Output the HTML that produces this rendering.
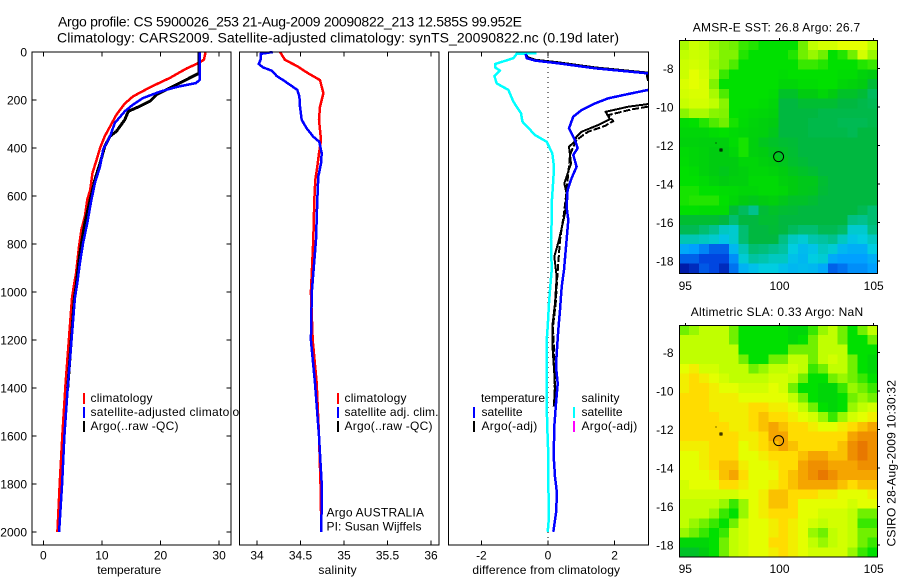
<!DOCTYPE html>
<html>
<head>
<meta charset="utf-8">
<title>Argo profile</title>
<style>
html,body{margin:0;padding:0;background:#fff;width:900px;height:580px;overflow:hidden}
svg{display:block}
text{font-family:"Liberation Sans",sans-serif;font-size:12px;fill:#000}
.t{font-size:14px}
</style>
</head>
<body>
<svg id="chart" xmlns="http://www.w3.org/2000/svg" width="900" height="580" viewBox="0 0 900 580">
<defs>
<clipPath id="clip3"><rect x="449" y="52" width="199" height="493"/></clipPath>
</defs>
<rect width="900" height="580" fill="#fff"/>
<text class="t" x="58" y="26.5" textLength="464">Argo profile: CS 5900026_253 21-Aug-2009 20090822_213 12.585S 99.952E</text>
<text class="t" x="57" y="42.5" textLength="562">Climatology: CARS2009. Satellite-adjusted climatology: synTS_20090822.nc (0.19d later)</text>

<g id="p1"></g>
<g id="p1legend">
<rect x="83" y="393" width="2" height="11" fill="#f00"/>
<rect x="83" y="407" width="2" height="11" fill="#00f"/>
<rect x="83" y="421" width="2" height="11" fill="#000"/>
<text x="90.5" y="402" textLength="62">climatology</text>
<text x="90.5" y="416" textLength="162">satellite-adjusted climatology</text>
<text x="90.5" y="430" textLength="88">Argo(..raw -QC)</text>
</g>
<g id="p2"></g>
<g id="p2legend">
<rect x="337" y="393" width="2" height="11" fill="#f00"/>
<rect x="337" y="407" width="2" height="11" fill="#00f"/>
<rect x="337" y="421" width="2" height="11" fill="#000"/>
<text x="344.5" y="402" textLength="62">climatology</text>
<text x="344.5" y="416" textLength="94">satellite adj. clim.</text>
<text x="344.5" y="430" textLength="88">Argo(..raw -QC)</text>
<text x="326.5" y="516.5" textLength="97.5">Argo AUSTRALIA</text>
<text x="326.5" y="530.5" textLength="95">PI: Susan Wijffels</text>
</g>
<g id="p3"></g>
<g id="p3legend">
<text x="481" y="402" textLength="64">temperature</text>
<rect x="473" y="407" width="2" height="11" fill="#00f"/>
<rect x="473" y="421" width="2" height="11" fill="#000"/>
<text x="481.5" y="416" textLength="41">satellite</text>
<text x="481.5" y="430" textLength="55.7">Argo(-adj)</text>
<text x="581.5" y="402" textLength="38">salinity</text>
<rect x="573" y="407" width="2" height="11" fill="#0ff"/>
<rect x="573" y="421" width="2" height="11" fill="#f0f"/>
<text x="581.5" y="416" textLength="41">satellite</text>
<text x="581.5" y="430" textLength="55.7">Argo(-adj)</text>
</g>
<g id="m1"></g>
<g id="m2"></g>
<text x="692.7" y="31.5" textLength="167.5">AMSR-E SST: 26.8 Argo: 26.7</text>
<text x="690.7" y="316" textLength="172.5">Altimetric SLA: 0.33 Argo: NaN</text>
<text transform="translate(895.5,546.5) rotate(-90)" textLength="166.5">CSIRO 28-Aug-2009 10:30:32</text>
</svg>
<script>
// ---- axis tick data ----
var depthTicks = [0,200,400,600,800,1000,1200,1400,1600,1800,2000];
var tempTicks = [0,10,20,30];
var salTicks = [34,34.5,35,35.5,36];
var salTickLabels = ['34','34.5','35','35.5','36'];
var diffTicks = [-2,0,2];
var lonTicks = [95,100,105];
var latTicks = [-8,-10,-12,-14,-16,-18];

// ---- temperature profiles ----
var tempClimDepth = [0,32,46,69,108,147,185,215,261,310,351,400,449,504,574,615,685,740,810,921,976,1025,1380,1600,1800,2000];
var tempClimValue = [27.7,27.4,26.5,24.4,21.6,18.2,15.3,13.9,12.5,11.4,10.5,9.7,9.1,8.4,8.0,7.5,7.1,6.5,6.1,5.6,5.2,4.9,3.8,3.25,2.8,2.4];
var tempSatDepth = [0,115,129,143,157,171,192,219,247,296,351,407,476,546,629,712,796,879,962,1025,1400,1600,1800,2000];
var tempSatValue = [26.7,26.7,26.1,23.3,21.0,19.3,17,15.3,13.9,12.2,11.4,10.2,9.7,8.8,8.1,7.5,6.8,6.25,5.8,5.4,4.16,3.6,3.2,2.7];
var tempArgoDepth = [0,88,108,129,157,178,205,226,247,282,330,351,393,462,532,615,712,838,976,1025,1400];
var tempArgoValue = [26.6,26.6,25,23.3,21,19.3,18.2,16.5,14.5,13.9,12.5,11.4,10.5,9.7,8.8,8,7.1,6.25,5.6,5.3,4.16];

// ---- salinity profiles ----
var salClimDepth = [0,33,58,89,117,172,228,283,367,422,478,533,617,783,1000,1200,1380,1600,1800,2000];
var salClimValue = [34.264,34.322,34.456,34.59,34.724,34.763,34.724,34.713,34.736,34.713,34.693,34.67,34.659,34.647,34.62,34.64,34.686,34.713,34.73,34.74];
var salSatDepth = [0,8,33,50,64,78,100,117,137,158,186,228,283,318,353,374,422,464,519,617,783,1000,1200,1380,1600,1800,2000];
var salSatValue = [34.18,34.04,34.04,34.02,34.07,34.17,34.226,34.30,34.38,34.463,34.487,34.494,34.514,34.571,34.647,34.716,34.744,34.736,34.705,34.693,34.678,34.63,34.62,34.667,34.713,34.744,34.74];

// ---- differences from climatology ----
var diffTSatDepth = [8,26,36,47,68,89,100,150,158,175,193,214,242,269,318,367,401,429,478,526,575,645,700,783,908,978,1075,1158,1256,1311,1381,1464,1561,1686,1770,1839,1922,1999];
var diffTSatValue = [-0.67,-0.64,-0.39,0.31,1.41,3.01,3.5,3.5,3.01,2.41,1.81,1.41,1.01,0.76,0.63,0.81,0.89,0.76,0.86,0.71,0.59,0.56,0.61,0.56,0.48,0.41,0.36,0.31,0.26,0.24,0.29,0.24,0.19,0.17,0.21,0.27,0.24,0.16];
var diffSSatDepth = [5,8,26,50,64,78,100,131,158,207,255,290,346,374,422,478,533,630,700,783,908,992,1047,1145,1200,1478,1617,1672,1796,1936,1999];
var diffSSatValue = [-0.34,-0.94,-1.04,-1.59,-1.59,-1.44,-1.61,-1.54,-1.19,-1.04,-0.81,-0.77,-0.39,-0.04,0.13,0.18,0.16,0.11,0.11,0.09,0.11,0.06,0.03,-0.01,-0.04,-0.04,-0.01,0.01,0.01,0.03,-0.01];
var diffArgoDepth = [8,22,32,43,64,86,100,117,125,210,217,228,249,280,304,332,353,374,395,464,547,589,672,783,853,936,1047,1145,1214,1339,1408,1478];
var diffArgoValue = [-0.67,-0.6,-0.39,0.31,1.41,3.0,2.97,3.0,3.6,3.6,3.0,2.41,1.73,1.86,1.51,1.01,0.86,0.79,0.63,0.69,0.49,0.56,0.51,0.33,0.19,0.26,0.21,0.13,0.13,0.19,0.21,0.17];
var diffArgoAdjDepth = [228,239,263,288,308,332,346,367,395,429,505,589,672,783,936,1047,1145,1339,1478];
var diffArgoAdjValue = [3.0,2.51,1.81,1.96,1.71,1.21,1.06,0.86,0.76,0.66,0.61,0.55,0.48,0.36,0.28,0.23,0.15,0.21,0.19];

// ---- map data: colour-scale level per cell, north to south ----
var sstLevels = [
[8.7,9.3,9,8.5,8.2,8,7.5,7.3,7,7,7,7,8,9,9.5,9.5,10,10,10,9],
[9,9.3,9.2,8.7,8.2,8.2,7.3,7,7,7,7,7.3,8,8.5,8,7,7.3,8,9.5,8.5],
[9.3,9.5,9.3,8.5,8.2,7.7,7,7,7,7,7,7,7.5,7.5,7.3,7,7,7,7.3,7.5],
[9.3,10,9.5,8.7,7.5,7,7,7,7,7,6.8,7,7,7,7,7,6.8,6.8,6.3,6],
[9.7,10,9.7,8.2,7,7,7,7,7,7,6.5,6.5,6.8,6.8,7,7,6.5,6.3,6,5.2],
[9.5,9.7,9.7,8.7,7.7,7,7,7,7,6.8,5.5,5.5,6,6,6.5,6,5.5,5.5,5.2,4.7],
[9.2,9.5,9.5,9,8.3,7,7,7,6.8,6.5,5,5,5.3,5.3,5.3,5.3,5,5,4.9,4.8],
[8.3,8.7,8.7,8.3,8.2,7,6.8,6.6,6.5,6.3,5,5,5,5,4.9,4.9,4.9,4.9,4.9,4.9],
[6.8,7,7.3,7.7,8,7.2,6.7,6.4,6.2,6,5,5,5,4.9,4.9,4.9,4.8,4.8,4.8,4.9],
[6.5,6.5,6.5,6.8,7,6.7,6.5,6.3,6.2,5.8,5,5,5,4.9,4.9,4.9,4.9,4.8,5,5],
[6.3,6.3,6.2,6.2,6.2,6.8,7.2,6.2,5.7,5.5,5.3,5.2,5,5,5,5,5,5,5,5],
[6.7,6.5,6.3,6,6,6.5,7.2,6.2,6,5.7,5.5,5.3,5,5,5,5,5,5,5,5],
[6.8,6.5,6.3,6,6,6,6.5,6.5,6.2,6,5.7,5.4,5.2,5,5,5,5,5,5,5],
[7,6.8,6.3,6,5.8,6,6.2,6.5,6.5,6.3,6,5.7,5.5,5.3,5,5,5,5,5,5],
[7,7,6.7,6.3,6,6.2,6.2,6.7,6.7,6.7,6.2,6,5.8,5.8,5.3,5,5,5,5,5],
[7.2,7.2,7,7,6.8,6.7,6.5,6.5,6.7,6.7,6.5,6,5.8,5.7,5.2,5,5,5,5,5],
[7.2,7.3,7.3,7.3,7,6.5,6,5.8,6,6.2,5.8,5.5,5.5,5.3,5,5,5,5,5,5],
[7,7,6.8,6.8,6.8,5.2,4.7,4.2,5.2,5.5,5.3,5.2,5,5,5,5,5,5,4.8,4.5],
[5.3,5.3,5.3,5.3,5,4.5,5,5,5.3,5.3,5,5,5,5,5,5,5,4.3,4.2,4.5],
[4.8,4.8,4.5,4.2,3.5,3.3,4.5,5,5,5.2,5,4.7,4.5,4.5,4.8,4.8,4.6,3.3,3.3,4.3],
[3.7,3.7,3.5,3.3,2.8,3.3,4.5,5,5,5,4.3,3.5,3.2,3.8,4,4.2,3.5,2.8,3,3.5],
[2.2,2,1.7,1.3,1.3,2.5,3.7,4.5,4.4,4.2,4,3,2.6,2.8,3.5,3.2,2.5,2.3,2.3,3],
[1.3,1.3,1,1,1,1.8,3.2,4,3.8,3.5,3.5,2.7,2.5,3,3.2,2.2,2,2,2,2.3],
[0.2,0.5,1.2,1,0.5,1.5,2.4,2.7,3,3,2.7,2.5,2.6,2.5,2.2,1.3,1.5,1.8,1.8,2]
];
var slaLevels = [
[8,8.5,9,9,9,8,7,7,7,7,7,6.5,6.5,7.5,8.5,9,8,7,8,9],
[9,9,9,9,9,8,7,7,7,7,7,6.5,7,8,9,9,8,7,7,8],
[9,9,9,9,9,9,7,7,7,7,7,8,8,8,9,9,9,7,7,7],
[9,9,9,9,9,9,8,7,7,8,8,9,9,8,9,9.5,9,8,7,6.5],
[10,10.5,9.5,9.5,9,9,9,8,8.5,9,9,9.5,9,7.5,8,9,9,8,7,6.5],
[10.5,11,10.5,10,9.5,9,9,9,9,9.5,9.5,9,8,7,7,8,8.5,8,7.5,7],
[10.5,11,11,10.5,10,10,9.5,9.5,9.5,10,9.5,8,7,7,6.5,6.5,7.5,8.5,8,7.5],
[11,11,11,10.5,10.5,10.5,10,10,10,10,10,9,8,7,6.5,6.5,7,8,8.5,8],
[11,11,11,10.5,10.5,10.5,10.5,11,11,10.5,10.5,10,9,8,7,6.5,7,8.5,9,9.5],
[11,11,11,11,10.5,10.5,10.5,11,11.5,11,11,10.5,10,9.5,8.5,7.5,8.5,9.5,10,10.5],
[11,11,11,11,11,10.5,10.5,11,11.5,12,11.5,11,11,10.5,10,10,10.5,11,11.5,12],
[11,11,11,11,11,11,10.5,10.5,11,12,12,11,11,11,11,11,11,12,12.5,12.5],
[10.5,10.5,10.5,11,11,11,10,10.5,11,11.5,12,11.5,11,11,11,11,11.5,12.5,13,12.5],
[10,10,10.5,11,11,11,10,10,10.5,11,11,11,11.5,12,12,11.5,11.5,12.5,13,12.5],
[10,10,10.5,11,11.5,11.5,10.5,10,10,10.5,11,11,12,12.5,12.5,12,12,12,12.5,12.5],
[10,10,10,10.5,11.5,12,11,10,10,10,11,11.5,12,12.5,13,12.5,12,12,12,12],
[9.5,10,10,10,11,11,10.5,10,10,10.5,11,11.5,12,12,12,12,11.5,11,11.5,11.5],
[9.5,9.5,9.5,9.5,9.5,9.5,10,10,10.5,11.5,11.5,11,11,11,10.5,10.5,10,10,10,10.5],
[9,9,9,9,8.5,7.5,8.5,10,10.5,11.5,11.5,11,10,10,10,10,10,9.5,10,10],
[9,9,9,8.5,7.5,7,8.5,10,10.5,11,11,11,10,10,9.5,9.5,9.5,9,8,8],
[9,8.5,8,7.5,7,8,9.5,10,10,10.5,11,10.5,10,9.5,9,9.5,9.5,9,7.5,7.5],
[8.5,8,7.5,7,7.5,9,9.5,10,10,10.5,11,10.5,10,8.5,8,9,9.5,9,8,8],
[6.5,6.5,6.5,7,8,9,9.5,10,10,11,11,10.5,10,9,8.5,9,9.5,9,8,7.5],
[5.5,5.5,6,7,8,9,9.5,10,10,10.5,11,10.5,10,9.5,9.5,9.5,9.5,8.5,7.5,7]
];
var floatLon = [99.952];
var floatLat = [-12.585];
var islandLon = [96.6,96.85];
var islandLat = [-11.85,-12.18];

// ---- scales ----
var NS = 'http://www.w3.org/2000/svg';
function yDepth(d){return 52 + 0.24*d;}
function xTemp(t){return 43.3 + 5.86*t;}
function xSal(s){return 257 + 87*(s-34);}
function xDiff(v){return 548 + 33.3*v;}
function xLon(l){return 685.3 + 18.84*(l-95);}
function yLat(base){return function(l){return base + 19.27*(-8-l);};}
var ramp = [[0,16,154],[0,70,224],[0,160,255],[0,205,225],[0,195,160],[0,184,64],[0,204,16],[0,224,0],[112,240,0],[192,255,0],[228,255,0],[255,220,0],[245,165,0],[232,120,0]];
function levelColor(v){
  var i = Math.min(Math.floor(v), ramp.length-2), f = v-i, c = [];
  for (var k=0;k<3;k++) c.push(Math.round(ramp[i][k]+(ramp[i+1][k]-ramp[i][k])*f));
  return 'rgb('+c.join(',')+')';
}
function mk(parent, tag, attrs, txt){
  var el = document.createElementNS(NS, tag);
  for (var a in attrs) el.setAttribute(a, attrs[a]);
  if (txt !== undefined) el.textContent = txt;
  parent.appendChild(el);
  return el;
}
function tickLine(g,x1,y1,x2,y2){
  var el = mk(g,'line',{x1:x1,y1:y1,x2:x2,y2:y2,stroke:'#000','stroke-width':1,'shape-rendering':'crispEdges'});
  
  
}
function tickText(g,x,y,anchor,s){
  var el = mk(g,'text',{x:x,y:y,'text-anchor':anchor},s);
  
  
}
function frame(g,x,y,w,h){
  var el = mk(g,'rect',{x:x,y:y,width:w,height:h,fill:'none',stroke:'#000','stroke-width':1,'shape-rendering':'crispEdges'});
  
  
}
function bg(g,x,y,w,h){
  var el = mk(g,'rect',{x:x,y:y,width:w,height:h,fill:'#fff'});
  
  
}
function profile(g,depths,values,xf,color,width,name,clip,dash){
  var pts = [];
  for (var i=0;i<depths.length;i++) pts.push(xf(values[i]).toFixed(1)+','+yDepth(depths[i]).toFixed(1));
  var el = mk(g,'polyline',{points:pts.join(' '),fill:'none',stroke:color,'stroke-width':width,'shape-rendering':'crispEdges','stroke-linejoin':'round'});
  if (clip) el.setAttribute('clip-path','url(#clip3)');
  if (dash) el.setAttribute('stroke-dasharray',dash);
  
  
}
function axisTitle(g,x,s,name,len){
  var el = mk(g,'text',{x:x,y:574,'text-anchor':'middle',textLength:len},s);
  
  
}

// ---- panel 1 ----
var p1 = document.getElementById('p1');
bg(p1,32,52,199,493);
profile(p1,tempClimDepth,tempClimValue,xTemp,'#f00',2.5,'temperature-climatology-line');
profile(p1,tempArgoDepth,tempArgoValue,xTemp,'#000',3,'temperature-argo-line');
profile(p1,tempSatDepth,tempSatValue,xTemp,'#00f',2.5,'temperature-satellite-line');
frame(p1,32,52,199,493);
depthTicks.forEach(function(d){
  var y = yDepth(d);
  tickLine(p1,32,y,36.5,y);
  tickLine(p1,226.5,y,231,y);
  tickText(p1,27,y+4.5,'end',String(d));
});
tempTicks.forEach(function(t){
  var x = xTemp(t);
  tickLine(p1,x,52,x,56.5);
  tickLine(p1,x,540.5,x,545);
  tickText(p1,x,559.5,'middle',String(t));
});
axisTitle(p1,129.2,'temperature','temperature-axis-title',64);

// ---- panel 2 (its white background hides the overflowing panel 1 legend) ----
var p2 = document.getElementById('p2');
bg(p2,239.5,52,199.5,493);
profile(p2,salClimDepth,salClimValue,xSal,'#f00',2.5,'salinity-climatology-line');
profile(p2,salSatDepth,salSatValue,xSal,'#00f',2.5,'salinity-satellite-line');
frame(p2,239.5,52,199.5,493);
salTicks.forEach(function(s,i){
  var x = xSal(s);
  tickLine(p2,x,52,x,56.5);
  tickLine(p2,x,540.5,x,545);
  tickText(p2,x,559.5,'middle',salTickLabels[i]);
});
axisTitle(p2,337.5,'salinity','salinity-axis-title',38.3);

// ---- panel 3 ----
var p3 = document.getElementById('p3');
bg(p3,448.5,52,200,493);
var zero = mk(p3,'line',{x1:xDiff(0),y1:52,x2:xDiff(0),y2:545,stroke:'#000','stroke-width':1,'stroke-dasharray':'1 4','shape-rendering':'crispEdges'});


profile(p3,diffArgoAdjDepth,diffArgoAdjValue,xDiff,'#000',2,'difference-argo-adjusted-line',true,'7 2');
profile(p3,diffArgoDepth,diffArgoValue,xDiff,'#000',2,'difference-argo-line',true);
profile(p3,diffSSatDepth,diffSSatValue,xDiff,'#0ff',2.5,'difference-salinity-satellite-line',true);
profile(p3,diffTSatDepth,diffTSatValue,xDiff,'#00f',2.5,'difference-temperature-satellite-line',true);
frame(p3,448.5,52,200,493);
diffTicks.forEach(function(v){
  var x = xDiff(v);
  tickLine(p3,x,52,x,56.5);
  tickLine(p3,x,540.5,x,545);
  tickText(p3,x,559.5,'middle',String(v));
});
axisTitle(p3,546.2,'difference from climatology','difference-axis-title',147.7);

// ---- maps ----
function drawMap(g,levels,top,bottom,base,labelY){
  var yf = yLat(base), left = 679.3, right = 877.3;
  var rows = levels.length, cols = levels[0].length;
  var cw = (right-left)/cols, ch = (bottom-top)/rows;
  levels.forEach(function(row,r){
    row.forEach(function(v,c){
      var cell = mk(g,'rect',{x:(left+c*cw).toFixed(2),y:(top+r*ch).toFixed(2),width:(cw+0.5).toFixed(2),height:(ch+0.5).toFixed(2),fill:levelColor(v),'shape-rendering':'crispEdges'});
      
      
    });
  });
  frame(g,left,top,right-left,bottom-top);
  lonTicks.forEach(function(l){
    var x = xLon(l);
    tickLine(g,x,top-2.5,x,top);
    tickText(g,x,labelY,'middle',String(l));
  });
  latTicks.forEach(function(l){
    var y = yf(l);
    tickLine(g,right,y,right+2.5,y);
    tickText(g,673.5,y+4.5,'end',String(l));
  });
  floatLon.forEach(function(l,i){
    var c = mk(g,'circle',{cx:xLon(l),cy:yf(floatLat[i]),r:5,fill:'none',stroke:'#000','stroke-width':1});
    
    
  });
  islandLon.forEach(function(l,i){
    var s = i === 0 ? 1 : 2;
    var d = mk(g,'rect',{x:xLon(l),y:yf(islandLat[i]),width:s,height:s,fill:i === 0 ? '#000' : 'none',stroke:i === 0 ? 'none' : '#000','stroke-width':1,'shape-rendering':'crispEdges'});
    
    
  });
}
drawMap(document.getElementById('m1'),sstLevels,40.3,273.3,68.3,290);
drawMap(document.getElementById('m2'),slaLevels,325.3,557,352.3,573);
</script>
</body>
</html>
